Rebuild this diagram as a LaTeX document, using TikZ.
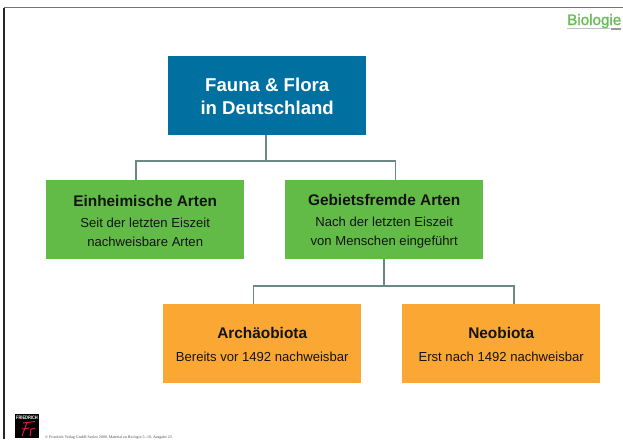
\documentclass[tikz,border=0pt]{standalone}
\usepackage{fontspec}
\setmainfont{Liberation Sans}
\newfontfamily\serifsmall{Liberation Serif}
\newfontfamily\biofont[FakeBold=1.6]{Liberation Sans}
\definecolor{rootblue}{RGB}{0,112,160}
\definecolor{boxgreen}{RGB}{98,187,70}
\definecolor{boxorange}{RGB}{251,167,51}
\definecolor{linkgray}{RGB}{108,136,132}
\definecolor{biogreen}{RGB}{104,190,84}
\definecolor{logored}{RGB}{225,20,70}
\tikzset{
  x=1pt,y=-1pt,
  card/.style={minimum width=198pt,minimum height=79pt,inner sep=0pt,anchor=north west,align=center,text=black!92},
  rootcard/.style={card,fill=rootblue,text=white,font=\bfseries\fontsize{18.6}{23.5}\selectfont},
  greencard/.style={card,fill=boxgreen},
  orangecard/.style={card,fill=boxorange},
  link/.style={draw=linkgray,line width=1.6pt}
}
\newcommand{\greentext}[2]{\vspace*{3pt}{\bfseries\fontsize{15.4}{18}\selectfont #1\par}\vspace{2.5pt}{\fontsize{13.1}{18.5}\selectfont #2\par}}
\newcommand{\orangetext}[2]{\vspace*{2pt}{\bfseries\fontsize{15.4}{18}\selectfont #1\par}\vspace{4.5pt}{\fontsize{13.1}{18.5}\selectfont #2\par}}
\begin{document}
\begin{tikzpicture}
\useasboundingbox (0,0) rectangle (623,439);
\fill[white] (0,0) rectangle (623,439);
\draw[draw=black!55,line width=1.5pt] (4,7.5) -- (623,7.5);
\draw[draw=black!85,line width=1.2pt] (4,7.5) -- (4,439);
\node[rootcard,minimum height=78pt] (root) at (168,57) {Fauna \& Flora\\in Deutschland};
\fill[rootblue] (168,56) rectangle (366,57.5);
\node[greencard] (ein) at (46,180) {\parbox{198pt}{\centering\greentext{Einheimische Arten}{Seit der letzten Eiszeit\\nachweisbare Arten}}};
\node[greencard] (geb) at (285,180) {\parbox{198pt}{\centering\greentext{Gebietsfremde Arten}{Nach der letzten Eiszeit\\von Menschen eingeführt}}};
\node[orangecard] (arc) at (163,304) {\parbox{198pt}{\centering\orangetext{Archäobiota}{Bereits vor 1492 nachweisbar}}};
\node[orangecard] (neo) at (402,304) {\parbox{198pt}{\centering\orangetext{Neobiota}{Erst nach 1492 nachweisbar}}};
\coordinate (rj) at (266,161);
\coordinate (gj) at (384,286);
\draw[link] (root.south -| rj) -- (rj);
\draw[link] (ein.north -| 136,0) |- (rj);
\draw[link] (geb.north -| 395.5,0) |- (rj);
\draw[link] (geb.south -| gj) -- (gj);
\draw[link] (arc.north -| 253.5,0) |- (gj);
\draw[link] (neo.north -| 514,0) |- (gj);
\node[anchor=base east,inner sep=0pt,text=biogreen,font=\biofont\fontsize{15.2}{16}\selectfont] (bio) at (621.5,25) {Biologie};
\fill[black!25] (567,28) rectangle (610,29);
\fill[black!40] (611,27.5) rectangle (621,29.6);
\node[anchor=north west,fill=black,minimum width=24pt,minimum height=24pt,inner sep=0pt] (logo) at (15,414) {};
\node[anchor=north,inner sep=0pt,text=white,font=\bfseries\fontsize{5}{5}\selectfont,xscale=0.8] (logot) at (27,415.5) {FRIEDRICH};
\draw[logored,line width=1pt] (23,423) -- (35,421.5);
\draw[logored,line width=1pt] (27,422.5) -- (22,436);
\draw[logored,line width=1pt] (22,429) -- (29,428);
\draw[logored,line width=1pt] (30,436) -- (31,429) -- (35,428.5);
\node[anchor=base west,inner sep=0pt,text=black!70,font=\serifsmall\fontsize{3.95}{4}\selectfont] (copy) at (45,438) {© Friedrich Verlag GmbH Seelze 2009, Material zu Biologie 5--10, Ausgabe 23};
\end{tikzpicture}
\end{document}
